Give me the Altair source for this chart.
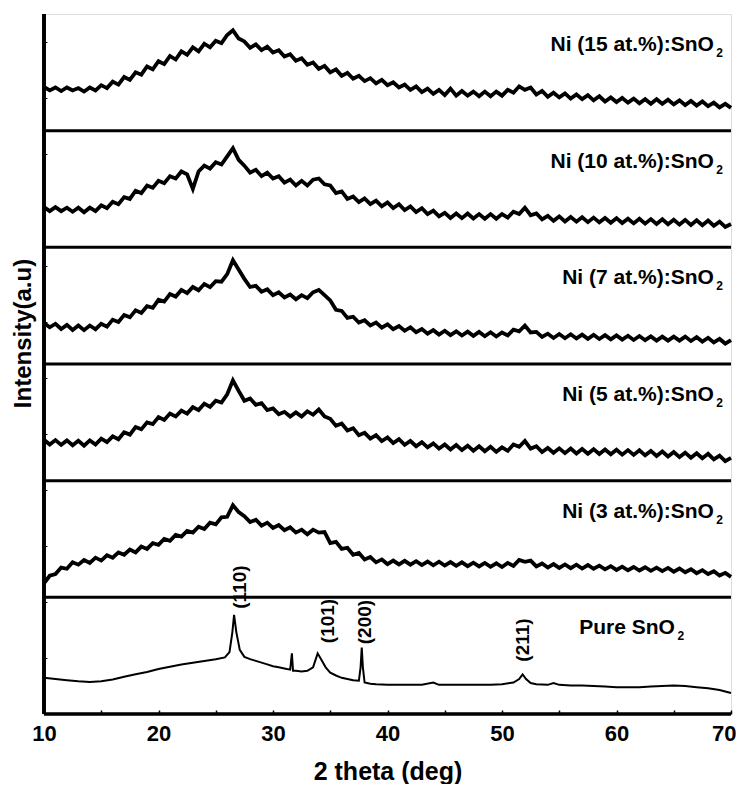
import altair as alt
import pandas as pd

# ---------------- data (panel units: 0 = panel bottom, 100 = panel top) ----------------
NAMES = ["Pure SnO", "Ni (3 at.%):SnO", "Ni (5 at.%):SnO", "Ni (7 at.%):SnO",
         "Ni (10 at.%):SnO", "Ni (15 at.%):SnO"]

X_DOPED = [10 + 0.5 * i for i in range(121)]

NI15 = [37.5, 34.5, 37, 34, 37, 34.5, 36.5, 33.5, 37, 34.5,
        39, 36.5, 42, 39.5, 46, 43.5, 50, 48, 55, 52.5,
        59.5, 57, 64, 61, 68, 65, 71.5, 68, 74.5, 71.5,
        77, 75, 82, 86, 79, 76.5, 71, 74, 69, 72,
        67, 69, 63.5, 65.5, 60, 62, 56.5, 58.5, 53, 55.5,
        50, 52.5, 47, 49.5, 44.5, 47, 42.5, 45, 40.5, 43.5,
        39, 41.5, 37, 39.5, 35, 38, 33, 36, 31.5, 35,
        30.5, 36, 30, 34, 30, 33.5, 29.5, 33.5, 29.5, 33.5,
        30, 35, 32.5, 38, 35, 37, 31, 34, 29, 32.5,
        28.5, 32, 27.5, 31, 27, 30.5, 26, 29.5, 25, 28.5,
        24.5, 28, 24, 27.5, 23.5, 27, 23, 27, 23, 26.5,
        22.5, 26, 22, 25.5, 21.5, 25, 21, 24, 20, 23,
        19.5]

NI10 = [34.5, 31, 34.5, 31, 34, 30.5, 34, 30, 34, 31,
        36, 33.5, 39, 37, 43, 41.5, 48.5, 46.5, 53, 51,
        57, 55, 61, 59, 65, 62.5, 50, 65, 70, 67.5,
        73, 71, 78, 85, 75, 70, 64, 66.5, 61, 64,
        59, 61, 55.5, 58, 53, 57, 53, 58, 59, 54,
        53, 46.5, 48, 41.5, 43.5, 38.7, 42, 37, 40, 35.2,
        38.5, 33.7, 37, 32, 35, 30.2, 33.5, 28.5, 31.5, 26.5,
        29.5, 25.2, 29, 25, 29, 24.7, 28.5, 24.5, 28.5, 24.5,
        28.5, 25.5, 30.5, 28.5, 34, 27.5, 29, 24, 27, 22.7,
        26.5, 22.2, 26, 22, 25.8, 21.6, 25.5, 21.4, 25.2, 21.1,
        25, 20.8, 24.5, 20.5, 24.5, 20.3, 24.2, 20, 24, 19.8,
        23.7, 19.5, 23.5, 19.2, 23.2, 19, 23, 18.5, 22, 17.5,
        20]

NI7 = [35, 31.5, 34.5, 30, 33.5, 29.2, 33, 29, 33, 29.8,
       34.5, 32, 38, 36, 42, 40, 46, 43.8, 49.5, 48.2,
       55, 53.5, 60, 57.8, 63.5, 60.8, 66, 63.2, 68.5, 65.8,
       71, 70.5, 77, 89, 81, 73, 66, 67, 62, 64,
       59, 61.5, 57, 59.5, 55.5, 59, 56.5, 61.5, 63.5, 59,
       54.5, 46.5, 45.5, 39.5, 40.5, 35.5, 37.5, 33, 35.5, 31.2,
       34, 29.8, 32.5, 28.5, 31.5, 27.2, 30, 26, 29, 25.2,
       28.5, 24.8, 28, 24.4, 27.7, 24.1, 27.5, 23.8, 27.2, 23.6,
       27, 24.5, 29.5, 28, 33, 27, 27.5, 23.2, 26, 22.3,
       25.7, 22.1, 25.5, 21.9, 25.2, 21.6, 25, 21.4, 24.7, 21.1,
       24.5, 20.9, 24.2, 20.6, 24, 20.4, 23.7, 20.1, 23.5, 20,
       23.5, 20, 23.5, 19.7, 23, 19.2, 22.5, 18.5, 21.5, 17.5,
       20.5]

NI5 = [35, 31, 34.8, 30.7, 34.5, 30.3, 34.2, 30, 34.5, 31,
       36, 33, 38, 35.5, 41.5, 39.5, 46, 44, 50, 48.5,
       54.5, 52, 57.5, 55, 60, 57.5, 63, 60.5, 66, 63.3,
       68.5, 67, 74, 86, 77, 68.5, 70.5, 65, 66.5, 60.5,
       62, 57, 59, 55, 58.5, 55, 59.5, 56.5, 61, 55,
       53, 47, 49, 43, 45, 39, 41, 36, 39, 34,
       37, 32.2, 35.5, 30.7, 34, 29.5, 33, 28.5, 32, 27.5,
       31, 26.7, 30.5, 26.2, 30, 25.7, 29.5, 25.2, 29, 24.7,
       28.5, 25.5, 31, 29, 34, 27.5, 29.5, 24.5, 28, 23.9,
       27.7, 23.6, 27.5, 23.3, 27.2, 23.1, 27, 22.8, 26.7, 22.6,
       26.5, 22.3, 26.2, 22.1, 26, 21.7, 25.5, 21.2, 25, 20.7,
       24.5, 20.2, 24, 19.7, 23.5, 19.2, 23, 18.2, 21.5, 16.7,
       19.5]

NI3 = [12, 18.5, 20, 25.5, 24.5, 30, 28, 32, 29.5, 34,
       31.5, 36, 34, 38.5, 36.5, 41, 38.5, 43.5, 41.5, 46.5,
       45, 50, 48.5, 53.5, 52, 57, 55.5, 60.5, 58.5, 64,
       62.5, 68.5, 69, 79, 73, 69.5, 64.5, 66.5, 61.5, 64,
       59.5, 62, 57.5, 60, 55.5, 58, 54, 58, 55.5, 56,
       46.5, 47.5, 41.5, 42.5, 36.5, 38, 32.5, 34.5, 30, 32.5,
       28.5, 31.5, 28.2, 31.3, 28, 31, 27.7, 30.7, 27.5, 30.5,
       27.2, 30.2, 27, 30, 26.7, 29.7, 26.5, 29.5, 26.2, 29.2,
       26, 29.5, 27, 32, 30.5, 31.5, 26.5, 29, 25.5, 28.5,
       25.2, 28.2, 25, 28, 24.7, 27.7, 24.5, 27.2, 24, 26.7,
       23.5, 26.3, 23.2, 26, 23, 25.8, 22.7, 25.5, 22.5, 25.2,
       22, 24.7, 21.5, 24.1, 20.7, 23.3, 20, 22.3, 18.7, 21,
       17.5]

X_PURE = [10, 11, 12, 13, 14, 15, 16, 17, 18, 19, 20, 21, 22, 23, 24, 25, 25.8,
          26.2, 26.45, 26.6, 26.8, 27.1, 27.5, 28, 28.5, 29, 29.5, 30, 30.5, 31,
          31.5, 31.65, 31.75, 32, 32.5, 33, 33.5, 33.9, 34.2, 34.6, 35, 35.5, 36,
          36.5, 37, 37.5, 37.65, 37.75, 37.85, 38, 38.5, 39, 40, 41, 42, 43, 44,
          44.5, 45, 46, 47, 48, 49, 50, 51, 51.5, 51.8, 52.1, 52.5, 53, 54, 54.5,
          55, 56, 57, 58, 59, 60, 61, 62, 63, 64, 65, 66, 67, 68, 69, 70]
PURE = [31, 30, 29, 28, 27.5, 28, 29.5, 32, 34, 36, 38.5, 40.5, 42.5, 44, 45.5, 47, 48.5,
        53, 70, 85, 70, 55, 49, 47, 45.5, 44, 42.5, 41, 40, 39,
        38, 52, 37, 37, 36.5, 37, 40, 52, 47, 40, 35.5, 33, 31,
        30, 29, 28.5, 40, 57, 40, 27, 26, 25.5, 25, 25, 25, 25, 27,
        25, 25, 25, 25, 25, 25, 25.5, 27, 30, 34, 30, 26.5, 25.5, 25, 26.5,
        25, 24.5, 24.5, 24, 23.5, 23, 23, 23, 23.5, 24, 24.5, 24, 23, 22, 20.5, 18]

PEAKS = ["(110)", "(101)", "(200)", "(211)"]
PEAK_X = [27.1, 34.8, 38.0, 51.8]
PEAK_Y = [108.8, 79.7, 78.8, 63.4]

# ---------------- build tables ----------------
series = [(NAMES[0], X_PURE, PURE), (NAMES[1], X_DOPED, NI3), (NAMES[2], X_DOPED, NI5),
          (NAMES[3], X_DOPED, NI7), (NAMES[4], X_DOPED, NI10), (NAMES[5], X_DOPED, NI15)]
rows = []
for k, (name, xs_, ys_) in enumerate(series):
    for xv, yv in zip(xs_, ys_):
        rows.append({"x": xv, "y": yv + 100 * k, "s": name, "pure": k == 0})
df = pd.DataFrame(rows)

lab = pd.DataFrame({
    "t": NAMES,
    "x": [65.1] + [68.5] * 5,
    "y": [69] + [68.3 + 100 * k for k in range(1, 6)],
})
peaks = pd.DataFrame({"t": PEAKS, "x": PEAK_X, "y": PEAK_Y})
seps = pd.DataFrame({"y": [100 * k for k in range(1, 6)]})

FONT = "Liberation Sans"

xs = alt.Scale(domain=[10, 70], nice=False, zero=False)
ys = alt.Scale(domain=[0, 600], nice=False)

xaxis = alt.Axis(values=list(range(10, 71, 5)),
                 labelExpr="datum.value % 10 == 0 ? datum.label : ''",
                 labelFlush=False, labelOverlap=False,
                 labelAlign=alt.condition("datum.value == 70", alt.value("right"), alt.value("center")),
                 labelOffset=alt.condition("datum.value == 70", alt.value(5), alt.value(0)),
                 domain=False, grid=False, ticks=True, tickSize=4, tickWidth=1.5,
                 tickColor="black", offset=-4, labelPadding=9, labelFontSize=22,
                 labelFont=FONT, labelFontWeight="bold", labelColor="black",
                 title="2 theta (deg)", titleFont=FONT, titleFontSize=25,
                 titleFontWeight="bold", titleColor="black", titleBaseline="alphabetic",
                 titleY=69)
yaxis = alt.Axis(values=list(range(0, 601, 6)), labels=False, domain=False, grid=False,
                 ticks=True, tickSize=3, tickWidth=1, tickColor="black", offset=-3,
                 title="Intensity(a.u)", titleFont=FONT, titleFontSize=24,
                 titleFontWeight="bold", titleColor="black", titleAngle=270,
                 titleAlign="center", titleBaseline="alphabetic", titleX=-17, titleY=319)

base = alt.Chart(df)
doped = base.transform_filter("!datum.pure").mark_line(
    color="black", strokeWidth=3.8, strokeJoin="miter").encode(
    x=alt.X("x:Q", scale=xs, axis=xaxis),
    y=alt.Y("y:Q", scale=ys, axis=yaxis),
    detail="s:N",
)
pure = base.transform_filter("datum.pure").mark_line(color="black", strokeWidth=2).encode(
    x=alt.X("x:Q", scale=xs),
    y=alt.Y("y:Q", scale=ys),
)
sep = alt.Chart(seps).mark_rule(color="black", strokeWidth=3).encode(y=alt.Y("y:Q", scale=ys))
left = alt.Chart(seps).mark_rule(color="black", strokeWidth=3).encode(x=alt.datum(10))
bottom = alt.Chart(seps).mark_rule(color="black", strokeWidth=2.5).encode(y=alt.datum(0))

labels = alt.Chart(lab).mark_text(align="right", baseline="alphabetic", font=FONT,
                                  fontSize=21, fontWeight="bold", color="black").encode(
    x=alt.X("x:Q", scale=xs), y=alt.Y("y:Q", scale=ys), text="t:N")
subs = alt.Chart(lab).mark_text(align="left", baseline="alphabetic", font=FONT, dx=2.5, dy=6,
                                fontSize=12, fontWeight="bold", color="black").encode(
    x=alt.X("x:Q", scale=xs), y=alt.Y("y:Q", scale=ys), text=alt.value("2"))
peak_t = alt.Chart(peaks).mark_text(angle=270, align="center", baseline="middle", font=FONT,
                                    fontSize=19, fontWeight="bold", color="black").encode(
    x=alt.X("x:Q", scale=xs), y=alt.Y("y:Q", scale=ys), text="t:N")

chart = alt.layer(doped, pure, sep, left, bottom, labels, subs, peak_t).properties(
    width=687, height=700,
    padding={"left": 36, "top": 6, "right": 5, "bottom": 70},
    autosize=alt.AutoSizeParams(type="none"),
).configure_view(stroke="black", strokeWidth=1.5).configure(background="white")

chart.save("out.html", embed_options={"renderer": "svg", "actions": False})
